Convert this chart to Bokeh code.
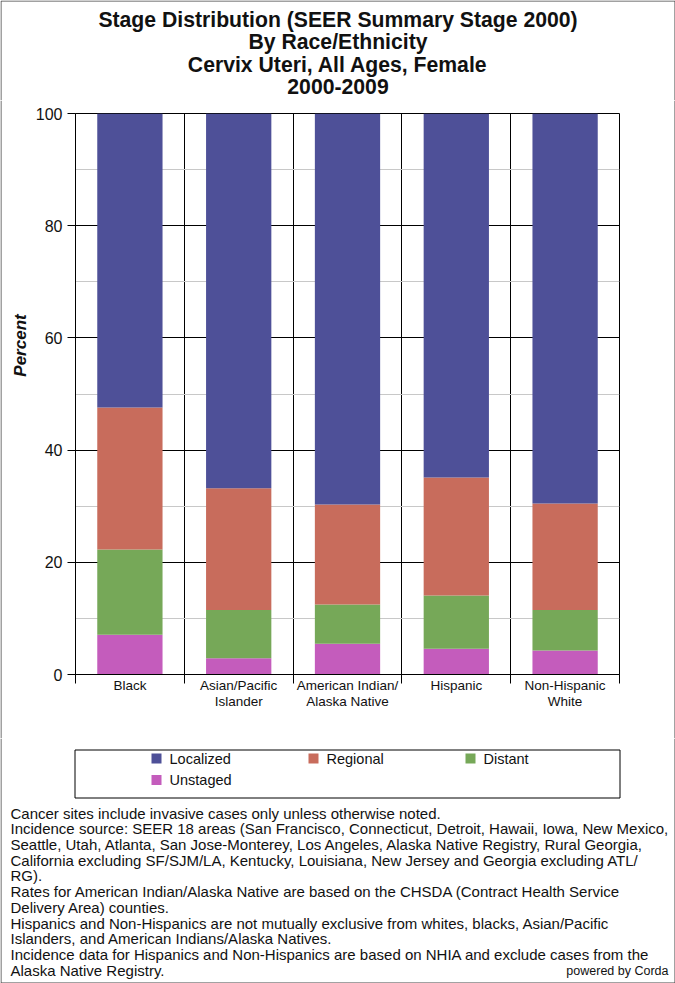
from bokeh.plotting import figure
from bokeh.models import Range1d, FixedTicker, ColumnDataSource
from bokeh.layouts import column, row
from bokeh.core.properties import value
from bokeh.embed import file_html
from bokeh.resources import INLINE

# ---------------- data ----------------
categories = ["Black", "Asian/Pacific Islander", "American Indian/Alaska Native",
              "Hispanic", "Non-Hispanic White"]
tick_labels = ["Black", "Asian/Pacific\nIslander", "American Indian/\nAlaska Native",
               "Hispanic", "Non-Hispanic\nWhite"]
localized = [52.4, 66.8, 69.7, 64.9, 69.5]
regional = [25.3, 21.7, 17.8, 21.0, 19.0]
distant = [15.2, 8.6, 7.0, 9.5, 7.2]
unstaged = [7.1, 2.9, 5.5, 4.6, 4.3]

series_names = ["Localized", "Regional", "Distant", "Unstaged"]
series_colors = ["#4e5098", "#c86c5c", "#76a858", "#c45cbc"]

y_ticks = [0, 20, 40, 60, 80, 100]
y_minor = [10, 30, 50, 70, 90]
y_title = "Percent"

title_lines = ["Stage Distribution (SEER Summary Stage 2000)",
               "By Race/Ethnicity",
               "Cervix Uteri, All Ages, Female",
               "2000-2009"]

footnotes = [
    "Cancer sites include invasive cases only unless otherwise noted.",
    "Incidence source: SEER 18 areas (San Francisco, Connecticut, Detroit, Hawaii, Iowa, New Mexico,",
    "Seattle, Utah, Atlanta, San Jose-Monterey, Los Angeles, Alaska Native Registry, Rural Georgia,",
    "California excluding SF/SJM/LA, Kentucky, Louisiana, New Jersey and Georgia excluding ATL/",
    "RG).",
    "Rates for American Indian/Alaska Native are based on the CHSDA (Contract Health Service",
    "Delivery Area) counties.",
    "Hispanics and Non-Hispanics are not mutually exclusive from whites, blacks, Asian/Pacific",
    "Islanders, and American Indians/Alaska Natives.",
    "Incidence data for Hispanics and Non-Hispanics are based on NHIA and exclude cases from the",
    "Alaska Native Registry.",
]
credit = "powered by Corda"

FONT = value("Liberation Sans")
TXT = "#111111"
EDGE = "#444444"
W, H = 675, 983
TOP_H, MID_H = 100, 638
BOT_H = H - TOP_H - MID_H
LEFT_W, RIGHT_W = 31, 10
FRAME_L, FRAME_R = 75, 619


def blank_fig(w, h, x0, x1, y0, y1):
    f = figure(width=w, height=h, x_range=Range1d(x0, x1), y_range=Range1d(y1, y0),
               min_border=0, x_axis_location=None, y_axis_location=None,
               toolbar_location=None, output_backend="svg", outline_line_color=None,
               frame_align=False)
    f.grid.grid_line_color = None
    return f


# ---------------- title ----------------
pt = blank_fig(W, TOP_H, 0, W, 0, TOP_H)
n_t = len(title_lines)
pt.text(x=[W / 2] * n_t, y=[18.7 + 22.4 * i for i in range(n_t)], text=title_lines,
        text_font=FONT, text_font_size="21.2px", text_font_style="bold",
        text_align="center", text_baseline="middle", text_color=TXT)
pt.segment(x0=[0.5, 0.5, W - 0.5], y0=[0.5, 0.5, 0.5], x1=[W - 0.5, 0.5, W - 0.5],
           y1=[0.5, TOP_H, TOP_H], line_color=EDGE, line_width=1)

# ---------------- y title strip ----------------
pl = blank_fig(LEFT_W, MID_H, 0, LEFT_W, TOP_H, TOP_H + MID_H)
pl.text(x=[20], y=[345], text=[y_title], angle=1.5707963, text_font=FONT,
        text_font_size="17px", text_font_style="bold italic", text_align="center",
        text_baseline="middle", text_color=TXT)
pl.segment(x0=[0.5], y0=[TOP_H], x1=[0.5], y1=[TOP_H + MID_H], line_color=EDGE)

# ---------------- right edge strip ----------------
pr = blank_fig(RIGHT_W, MID_H, W - RIGHT_W, W, TOP_H, TOP_H + MID_H)
pr.segment(x0=[W - 0.5], y0=[TOP_H], x1=[W - 0.5], y1=[TOP_H + MID_H], line_color=EDGE)

# ---------------- chart ----------------
xs = list(range(1, len(categories) + 1))
source = ColumnDataSource(dict(x=xs, Localized=localized, Regional=regional,
                               Distant=distant, Unstaged=unstaged))

p = figure(width=W - LEFT_W - RIGHT_W, height=MID_H,
           x_range=Range1d(0.5, len(categories) + 0.5), y_range=Range1d(0, 100),
           toolbar_location=None, output_backend="svg",
           min_border_left=FRAME_L - LEFT_W, min_border_right=W - RIGHT_W - FRAME_R,
           min_border_top=13, min_border_bottom=64, frame_align=False)
p.outline_line_color = "black"

stack_order = ["Unstaged", "Distant", "Regional", "Localized"]
stack_colors = [series_colors[series_names.index(s)] for s in stack_order]
p.vbar_stack(stack_order, x="x", width=0.6, source=source,
             fill_color=stack_colors, line_color=None)

p.xaxis.ticker = FixedTicker(ticks=xs, minor_ticks=[x - 0.5 for x in xs] + [xs[-1] + 0.5])
p.xaxis.major_label_overrides = {x: lab for x, lab in zip(xs, tick_labels)}
p.xaxis.major_tick_out = 0
p.xaxis.major_tick_in = 0
p.xaxis.minor_tick_out = 9
p.xaxis.minor_tick_in = 0
p.xaxis.minor_tick_line_color = "black"
p.xaxis.axis_line_color = "black"
p.xaxis.major_label_text_font = "Liberation Sans"
p.xaxis.major_label_text_font_size = "13.5px"
p.xaxis.major_label_text_color = TXT
p.xaxis.major_label_text_line_height = 1.1
p.xaxis.major_label_standoff = -6

p.yaxis.ticker = FixedTicker(ticks=y_ticks, minor_ticks=y_minor)
p.yaxis.major_tick_out = 8
p.yaxis.major_tick_in = 0
p.yaxis.minor_tick_out = 0
p.yaxis.minor_tick_in = 0
p.yaxis.major_tick_line_color = "black"
p.yaxis.axis_line_color = "black"
p.yaxis.major_label_text_font = "Liberation Sans"
p.yaxis.major_label_text_font_size = "16px"
p.yaxis.major_label_text_color = TXT
p.yaxis.major_label_standoff = 5

p.xgrid.grid_line_color = None
p.xgrid.minor_grid_line_color = "black"
p.ygrid.grid_line_color = "black"
p.ygrid.minor_grid_line_color = "#c8c8c8"

# ---------------- legend + notes ----------------
y_b0 = TOP_H + MID_H
pb = blank_fig(W, BOT_H, 0, W, y_b0, H)
pb.quad(left=[74.5], right=[619.5], top=[749.5], bottom=[797.5],
        fill_color=None, line_color="black", line_width=1)
n_s = len(series_names)
sw_x = [156 + 157 * (i % 3) for i in range(n_s)]
sw_y = [758 + 21.5 * (i // 3) for i in range(n_s)]
pb.rect(x=sw_x, y=sw_y, width=10, height=10, fill_color=series_colors, line_color=None)
pb.text(x=[sx + 13 for sx in sw_x], y=sw_y, text=series_names, text_font=FONT,
        text_font_size="14.5px", text_align="left", text_baseline="middle",
        text_color=TXT)

n_f = len(footnotes)
pb.text(x=[10] * n_f, y=[812.5 + 15.73 * i for i in range(n_f)], text=footnotes,
        text_font=FONT, text_font_size="15px", text_align="left",
        text_baseline="middle", text_color=TXT)
pb.text(x=[668], y=[970], text=[credit], text_font=FONT, text_font_size="12.5px",
        text_align="right", text_baseline="middle", text_color=TXT)
pb.segment(x0=[0.5, W - 0.5, 0.5], y0=[y_b0, y_b0, H - 0.5], x1=[0.5, W - 0.5, W - 0.5],
           y1=[H - 0.5, H - 0.5, H - 0.5], line_color=EDGE, line_width=1)

layout = column(pt, row(pl, p, pr, spacing=0), pb, spacing=0)
open("out.html", "w").write(file_html(layout, INLINE))
